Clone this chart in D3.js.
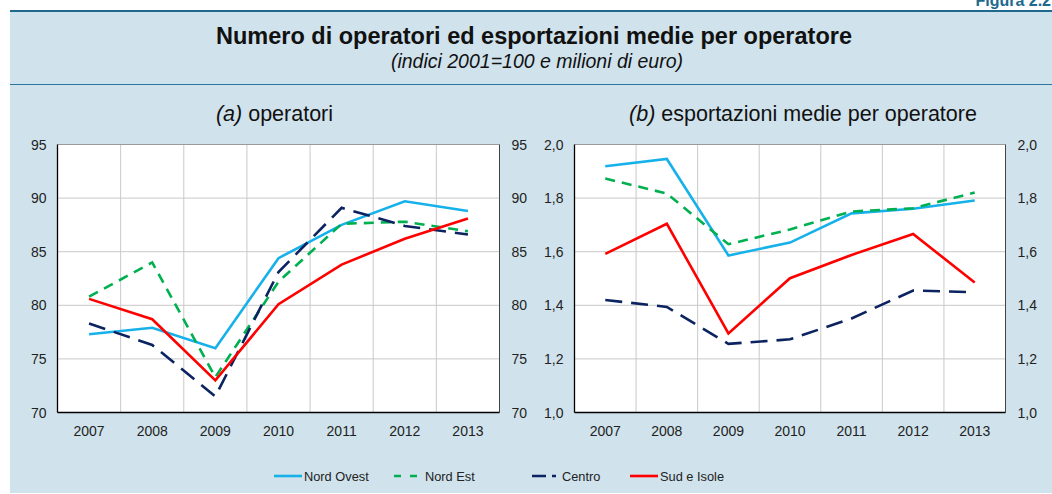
<!DOCTYPE html>
<html>
<head>
<meta charset="utf-8">
<script src="https://cdn.jsdelivr.net/npm/d3@7"></script>
<style>
  body { margin: 0; background: #fff; }
  svg { display: block; font-family: "Liberation Sans", Arial, sans-serif; }
  .tick-label { font-size: 14px; fill: #222; }
</style>
</head>
<body>
<div id="chart"></div>
<script>
// anni e serie
const years = ['2007', '2008', '2009', '2010', '2011', '2012', '2013'];
const seriesNames = ['Nord Ovest', 'Nord Est', 'Centro', 'Sud e Isole'];

// (a) operatori, indici 2001=100
const opNordOvest = [77.3, 77.9, 76.0, 84.4, 87.5, 89.7, 88.8];
const opNordEst   = [80.8, 84.0, 73.3, 82.2, 87.6, 87.8, 86.9];
const opCentro    = [78.3, 76.3, 71.5, 83.1, 89.1, 87.4, 86.6];
const opSud       = [80.6, 78.7, 73.0, 80.1, 83.8, 86.2, 88.1];

// (b) esportazioni medie per operatore, milioni di euro
const exNordOvest = [1.919, 1.946, 1.586, 1.634, 1.743, 1.760, 1.791];
const exNordEst   = [1.873, 1.817, 1.628, 1.683, 1.750, 1.762, 1.821];
const exCentro    = [1.420, 1.394, 1.256, 1.273, 1.351, 1.455, 1.449];
const exSud       = [1.592, 1.704, 1.295, 1.501, 1.588, 1.666, 1.485];

const ticksA = [70, 75, 80, 85, 90, 95];
const ticksB = [1.0, 1.2, 1.4, 1.6, 1.8, 2.0];

const styles = {
  'Nord Ovest': { color: '#16b1ea', dash: null },
  'Nord Est': { color: '#00b050', dash: '10,7' },
  'Centro': { color: '#0b2360', dash: '17,9' },
  'Sud e Isole': { color: '#ff0000', dash: null }
};

const W = 1052, H = 494;
const svg = d3.select('#chart').append('svg')
  .attr('width', W)
  .attr('height', H);

// sfondo riquadro
svg.append('rect')
  .attr('x', 10).attr('y', 10)
  .attr('width', W - 10).attr('height', 483)
  .attr('fill', '#d0e2ec');
svg.append('line')
  .attr('x1', 10).attr('x2', W).attr('y1', 11).attr('y2', 11)
  .attr('stroke', '#1d6a8e').attr('stroke-width', 2);
svg.append('line')
  .attr('x1', 10).attr('x2', W).attr('y1', 84.5).attr('y2', 84.5)
  .attr('stroke', '#2a77a0').attr('stroke-width', 1.2);

svg.append('text')
  .attr('x', 1051).attr('y', 6)
  .attr('text-anchor', 'end')
  .style('font-size', '16px').style('font-weight', 'bold')
  .attr('fill', '#1d6a8e')
  .text('Figura 2.2');

svg.append('text')
  .attr('x', 534).attr('y', 44)
  .attr('text-anchor', 'middle')
  .style('font-size', '23.5px').style('font-weight', 'bold')
  .attr('fill', '#111')
  .text('Numero di operatori ed esportazioni medie per operatore');

svg.append('text')
  .attr('x', 537).attr('y', 68)
  .attr('text-anchor', 'middle')
  .style('font-size', '19.5px').style('font-style', 'italic')
  .attr('fill', '#111')
  .text('(indici 2001=100 e milioni di euro)');

function panelTitle(cx, letter, label) {
  const t = svg.append('text')
    .attr('x', cx).attr('y', 121)
    .attr('text-anchor', 'middle')
    .style('font-size', '21.5px')
    .attr('fill', '#111');
  t.append('tspan').style('font-style', 'italic').text(letter);
  t.append('tspan').text(' ' + label);
}
panelTitle(274.5, '(a)', 'operatori');
panelTitle(803, '(b)', 'esportazioni medie per operatore');

function drawPanel(opts) {
  const { left, right, top, bottom, domain, ticks, fmt, data } = opts;

  const x = d3.scaleBand().domain(years).range([left, right]).padding(0);
  const y = d3.scaleLinear().domain(domain).range([bottom, top]);
  const g = svg.append('g');

  g.append('rect')
    .attr('x', left).attr('y', top)
    .attr('width', right - left).attr('height', bottom - top)
    .attr('fill', '#fff');

  // griglia orizzontale
  g.selectAll('.hgrid').data(ticks.slice(1, -1))
    .enter().append('line')
    .attr('x1', left).attr('x2', right)
    .attr('y1', d => y(d)).attr('y2', d => y(d))
    .attr('stroke', '#c9c9c9').attr('stroke-width', 1);

  // griglia verticale ai bordi delle categorie
  g.selectAll('.vgrid').data(years.slice(1))
    .enter().append('line')
    .attr('x1', d => x(d)).attr('x2', d => x(d))
    .attr('y1', top).attr('y2', bottom)
    .attr('stroke', '#c9c9c9').attr('stroke-width', 1);

  g.append('line').attr('x1', left).attr('x2', right).attr('y1', top).attr('y2', top)
    .attr('stroke', '#9a9a9a');
  g.append('line').attr('x1', right).attr('x2', right).attr('y1', top).attr('y2', bottom)
    .attr('stroke', '#444');
  g.append('line').attr('x1', left).attr('x2', left).attr('y1', top).attr('y2', bottom)
    .attr('stroke', '#000').attr('stroke-width', 1.3);
  g.append('line').attr('x1', left).attr('x2', right).attr('y1', bottom).attr('y2', bottom)
    .attr('stroke', '#000').attr('stroke-width', 1.3);

  // etichette asse y a sinistra e a destra
  g.selectAll('.ly').data(ticks).enter().append('text')
    .attr('class', 'tick-label')
    .attr('x', left - 11).attr('y', d => y(d) + 5)
    .attr('text-anchor', 'end')
    .text(fmt);
  g.selectAll('.ry').data(ticks).enter().append('text')
    .attr('class', 'tick-label')
    .attr('x', right + 12).attr('y', d => y(d) + 5)
    .attr('text-anchor', 'start')
    .text(fmt);

  // etichette asse x
  g.selectAll('.xl').data(years).enter().append('text')
    .attr('class', 'tick-label')
    .attr('x', d => x(d) + x.bandwidth() / 2).attr('y', bottom + 23)
    .attr('text-anchor', 'middle')
    .text(d => d);

  const line = d3.line()
    .x((d, i) => x(years[i]) + x.bandwidth() / 2)
    .y(d => y(d));

  seriesNames.forEach((name, k) => {
    g.append('path')
      .datum(data[k])
      .attr('d', line)
      .attr('fill', 'none')
      .attr('stroke', styles[name].color)
      .attr('stroke-width', 2.6)
      .attr('stroke-dasharray', styles[name].dash);
  });
}

drawPanel({
  left: 57.5, right: 499.5, top: 144.5, bottom: 412.5,
  domain: [70, 95], ticks: ticksA, fmt: d => d,
  data: [opNordOvest, opNordEst, opCentro, opSud]
});

drawPanel({
  left: 574.5, right: 1005.5, top: 144.5, bottom: 412.5,
  domain: [1.0, 2.0], ticks: ticksB, fmt: d => d3.format('.1f')(d).replace('.', ','),
  data: [exNordOvest, exNordEst, exCentro, exSud]
});

// legenda
const legendItems = [
  { name: 'Nord Ovest', x1: 274, x2: 302, tx: 304 },
  { name: 'Nord Est', x1: 394, x2: 418, tx: 425 },
  { name: 'Centro', x1: 532, x2: 556, tx: 562 },
  { name: 'Sud e Isole', x1: 630, x2: 658, tx: 660 }
];
const lg = svg.append('g');
legendItems.forEach(it => {
  lg.append('line')
    .attr('x1', it.x1).attr('x2', it.x2).attr('y1', 476).attr('y2', 476)
    .attr('stroke', styles[it.name].color)
    .attr('stroke-width', 2.6)
    .attr('stroke-dasharray', it.name === 'Nord Est' ? '7,9' : it.name === 'Centro' ? '14,6' : null);
  lg.append('text')
    .attr('x', it.tx).attr('y', 481)
    .style('font-size', '12.8px')
    .attr('fill', '#222')
    .text(it.name);
});
</script>
</body>
</html>
